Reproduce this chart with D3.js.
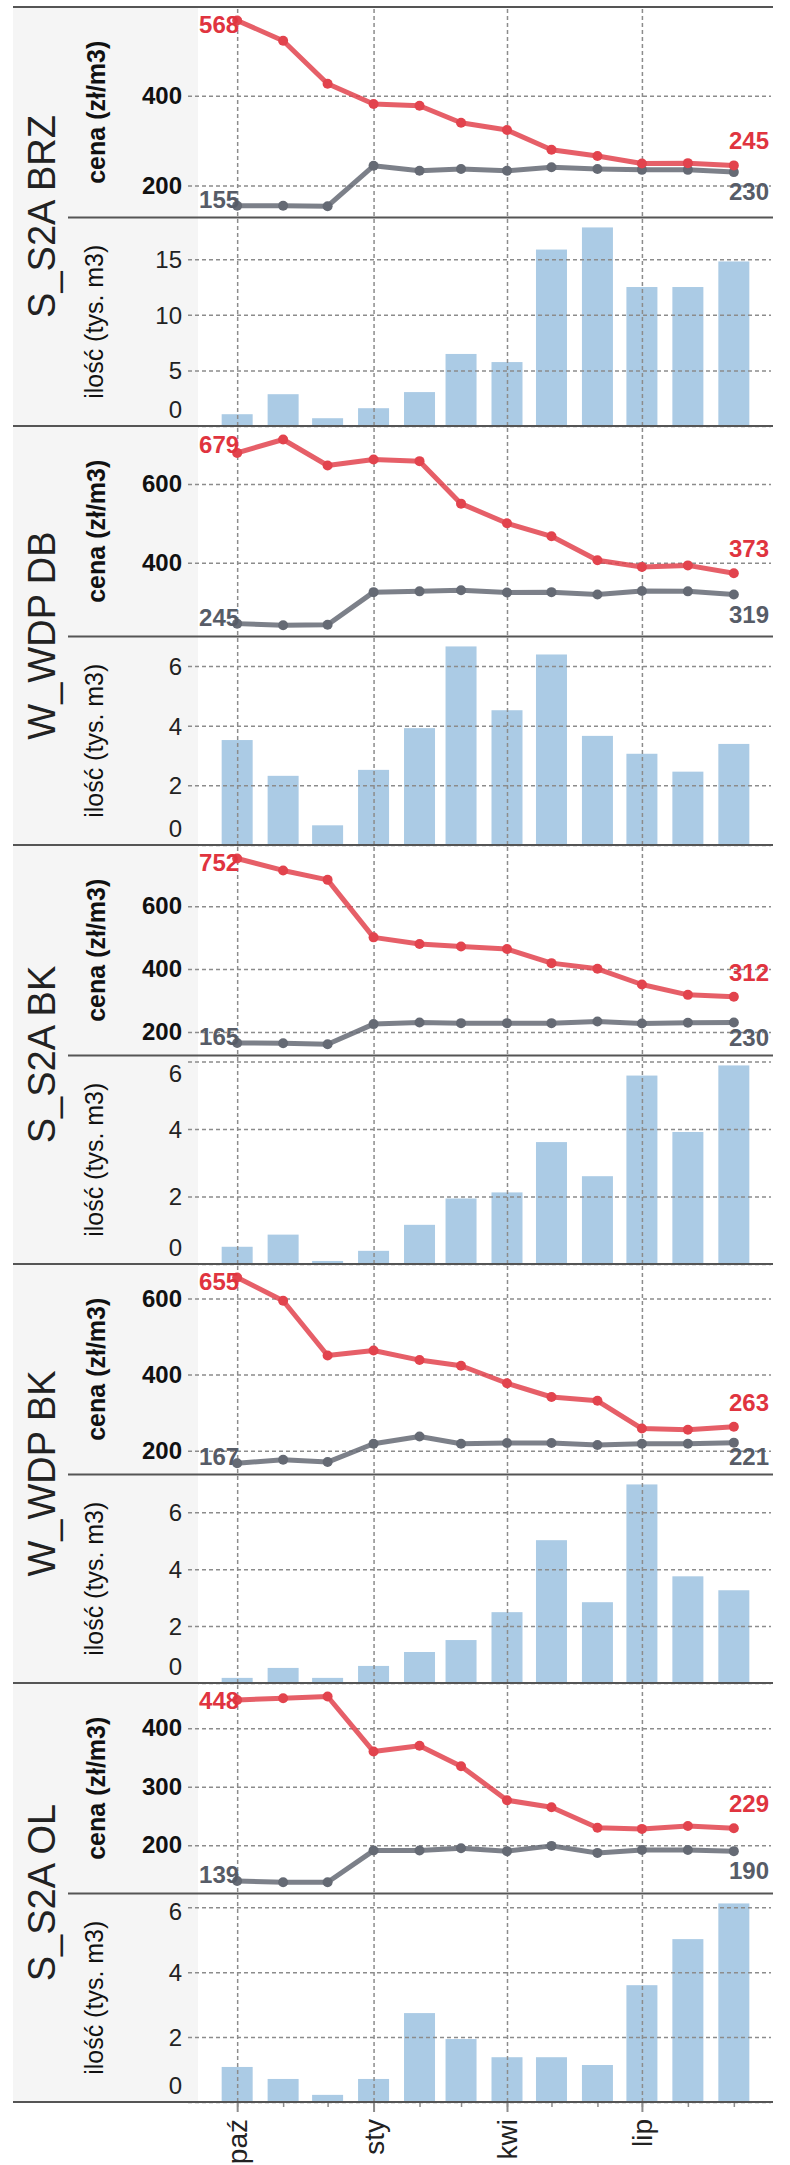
<!DOCTYPE html>
<html>
<head>
<meta charset="utf-8">
<script src="https://cdn.jsdelivr.net/npm/d3@7"></script>
<style>
body { margin: 0; background: #fff; }
svg { display: block; font-family: "Liberation Sans", Arial, Helvetica, sans-serif; }
</style>
</head>
<body>
<div id="chart"></div>
<script>
// facet names, months and quarter tick labels
const facetNames = ["S_S2A BRZ", "W_WDP DB", "S_S2A BK", "W_WDP BK", "S_S2A OL"]
const months = ["2022-10-01", "2022-11-01", "2022-12-01", "2023-01-01", "2023-02-01", "2023-03-01",
                "2023-04-01", "2023-05-01", "2023-06-01", "2023-07-01", "2023-08-01", "2023-09-01"]
const quarterMonths = ["2022-10-01", "2023-01-01", "2023-04-01", "2023-07-01"]
const quarterLabels = ["paź", "sty", "kwi", "lip"]

// cena (zł/m3) - upper (red) series, one row per facet
const cenaRed = [
    [568, 523, 427, 382, 378, 340, 324, 280, 266, 249, 250, 245],
    [679, 713, 647, 662, 658, 550, 500, 467, 406, 389, 393, 373],
    [752, 714, 684, 501, 480, 472, 464, 419, 401, 351, 318, 312],
    [655, 594, 450, 463, 438, 423, 377, 341, 331, 258, 255, 263],
    [448, 451, 454, 360, 370, 335, 277, 265, 230, 228, 233, 229]
]
// cena (zł/m3) - lower (grey) series
const cenaGrey = [
    [155, 155, 154, 244, 233, 237, 233, 241, 237, 235, 235, 230],
    [245, 241, 242, 325, 327, 330, 324, 325, 319, 328, 327, 319],
    [165, 164, 161, 225, 230, 228, 228, 228, 233, 227, 229, 230],
    [167, 176, 170, 218, 237, 218, 220, 220, 215, 218, 218, 221],
    [139, 137, 137, 191, 191, 195, 190, 199, 187, 192, 192, 190]
]
// ilość (tys. m3) - bars
const ilosc = [
    [1.06, 2.86, 0.70, 1.60, 3.05, 6.48, 5.75, 15.87, 17.86, 12.5, 12.5, 14.8],
    [3.52, 2.32, 0.66, 2.52, 3.92, 6.66, 4.52, 6.39, 3.66, 3.06, 2.46, 3.39],
    [0.51, 0.87, 0.09, 0.39, 1.16, 1.94, 2.12, 3.61, 2.60, 5.58, 3.91, 5.88],
    [0.18, 0.53, 0.18, 0.60, 1.09, 1.51, 2.49, 5.02, 2.84, 6.98, 3.75, 3.26],
    [1.08, 0.71, 0.22, 0.71, 2.74, 1.94, 1.38, 1.38, 1.14, 3.60, 5.02, 6.12]
]

const width = 790, height = 2165
const top0 = 7, bgLeft = 13, plotLeft = 198, plotRight = 773, gridRight = 771
const facetH = 419, lineH = 210.5
const red = "#e2434d", redText = "#e0343f", grey = "#656a74", greyText = "#575c67"
const barColor = "#abcbe5", gridColor = "#8c8c8c", frameColor = "#555"

const parse = d3.timeParse("%Y-%m-%d")
const dates = months.map(parse)
const quarters = quarterMonths.map(parse)

const x = d3.scaleTime()
    .domain([d3.timeHour.offset(dates[0], -634), d3.timeHour.offset(dates[dates.length - 1], 634)])
    .range([plotLeft, plotRight])

const svg = d3.select("#chart")
    .append("svg")
    .attr("width", width)
    .attr("height", height)

function styleGrid(sel) {
    sel.selectAll("line")
        .attr("stroke", gridColor)
        .attr("stroke-width", 1.5)
        .attr("stroke-dasharray", "4,3")
}

facetNames.forEach((name, i) => {
    const top = top0 + i * facetH
    const sep = top + lineH
    const bottom = top + facetH
    const g = svg.append("g")

    g.append("rect")
        .attr("x", bgLeft)
        .attr("y", top)
        .attr("width", plotLeft - bgLeft)
        .attr("height", facetH)
        .attr("fill", "#f5f5f5")

    // scales
    const vals = cenaRed[i].concat(cenaGrey[i])
    const y0 = d3.scaleLinear().domain(d3.extent(vals)).range([sep - 11.3, top + 13.5])
    const yLine = d3.scaleLinear().domain([y0.invert(sep), y0.invert(top)]).range([sep, top])
    const yBar = d3.scaleLinear().domain([0, d3.max(ilosc[i]) * 1.05]).range([bottom, sep])

    // bars
    g.selectAll(".bar")
        .data(ilosc[i])
        .join("rect")
        .attr("class", "bar")
        .attr("x", (d, j) => x(dates[j]) - 15.5)
        .attr("width", 31)
        .attr("y", d => yBar(d))
        .attr("height", d => bottom - yBar(d))
        .attr("fill", barColor)

    // vertical grid at quarters
    g.append("g")
        .attr("transform", `translate(0,${bottom})`)
        .call(d3.axisBottom(x).tickValues(quarters).tickSize(-facetH).tickFormat(""))
        .call(a => a.select(".domain").remove())
        .call(styleGrid)

    // y axis of line panel
    const axL = g.append("g")
        .attr("transform", `translate(${plotLeft},0)`)
        .call(d3.axisLeft(yLine).ticks(3).tickSize(-(gridRight - plotLeft)).tickPadding(16))
        .call(a => a.select(".domain").remove())
        .call(styleGrid)
    axL.selectAll("line").attr("x1", -10)
    axL.selectAll("text")
        .attr("font-size", 24)
        .attr("font-weight", "bold")
        .attr("fill", "#111")
        .attr("font-family", null)

    // y axis of bar panel
    const axB = g.append("g")
        .attr("transform", `translate(${plotLeft},0)`)
        .call(d3.axisLeft(yBar).ticks(3).tickSize(-(gridRight - plotLeft)).tickPadding(16))
        .call(a => a.select(".domain").remove())
        .call(styleGrid)
    axB.selectAll("line").attr("x1", -10)
    axB.selectAll("text")
        .attr("font-size", 24)
        .attr("fill", "#222")
        .attr("font-family", null)
        .attr("dy", null)
        .attr("y", 0)
        .attr("transform", null)
    // keep labels flush inside the panel
    axB.selectAll(".tick").each(function(d) {
        const ty = yBar(d)
        let base = ty + 8.5
        if (base > bottom - 9) base = bottom - 9
        if (base - 17 < sep + 9) base = sep + 9 + 17
        d3.select(this).select("text").attr("y", base - ty)
    })

    // lines and points
    const line = d3.line()
        .x((d, j) => x(dates[j]))
        .y(d => yLine(d))

    const series = [
        {values: cenaGrey[i], color: grey},
        {values: cenaRed[i], color: red}
    ]
    series.forEach(s => {
        g.append("path")
            .datum(s.values)
            .attr("d", line)
            .attr("fill", "none")
            .attr("stroke", s.color)
            .attr("stroke-width", 5)
            .attr("stroke-opacity", 0.85)
            .attr("stroke-linejoin", "round")
        g.selectAll(null)
            .data(s.values)
            .join("circle")
            .attr("cx", (d, j) => x(dates[j]))
            .attr("cy", d => yLine(d))
            .attr("r", 5)
            .attr("fill", s.color)
    })

    // first and last value labels
    const n = dates.length - 1
    const labels = [
        {v: cenaRed[i][0], x: x(dates[0]) + 2, y: Math.max(yLine(cenaRed[i][0]), top + 26), c: redText},
        {v: cenaGrey[i][0], x: x(dates[0]) + 2, y: Math.min(yLine(cenaGrey[i][0]) + 2, sep - 9.5), c: greyText},
        {v: cenaRed[i][n], x: plotRight - 4, y: yLine(cenaRed[i][n]) - 16, c: redText},
        {v: cenaGrey[i][n], x: plotRight - 4, y: Math.min(yLine(cenaGrey[i][n]) + 28, sep - 9.5), c: greyText}
    ]
    g.selectAll(".vlab")
        .data(labels)
        .join("text")
        .attr("class", "vlab")
        .attr("x", d => d.x)
        .attr("y", d => d.y)
        .attr("text-anchor", "end")
        .attr("font-size", 24)
        .attr("font-weight", "bold")
        .attr("fill", d => d.c)
        .text(d => d.v)

    // titles
    g.append("text")
        .attr("transform", `translate(55,${(top + bottom) / 2}) rotate(-90)`)
        .attr("text-anchor", "middle")
        .attr("font-size", 38)
        .attr("fill", "#222")
        .text(name)
    g.append("text")
        .attr("transform", `translate(105,${(top + sep) / 2}) rotate(-90)`)
        .attr("text-anchor", "middle")
        .attr("font-size", 25)
        .attr("font-weight", "bold")
        .attr("fill", "#111")
        .text("cena (zł/m3)")
    g.append("text")
        .attr("transform", `translate(103,${(sep + bottom) / 2}) rotate(-90)`)
        .attr("text-anchor", "middle")
        .attr("font-size", 25)
        .attr("fill", "#111")
        .text("ilość (tys. m3)")

    // frame lines
    g.append("line")
        .attr("x1", bgLeft).attr("x2", plotRight)
        .attr("y1", top).attr("y2", top)
        .attr("stroke", frameColor).attr("stroke-width", 2)
    g.append("line")
        .attr("x1", 68).attr("x2", plotRight)
        .attr("y1", sep).attr("y2", sep)
        .attr("stroke", frameColor).attr("stroke-width", 2)
})

const chartBottom = top0 + facetNames.length * facetH

// x axis: minor ticks each month, labelled quarters
svg.append("g")
    .attr("transform", `translate(0,${chartBottom})`)
    .call(d3.axisBottom(x).tickValues(dates).tickSize(5).tickFormat(""))
    .call(a => a.select(".domain").remove())
    .call(a => a.selectAll("line").attr("stroke", gridColor).attr("stroke-width", 1.5))

svg.append("g")
    .attr("transform", `translate(0,${chartBottom})`)
    .call(d3.axisBottom(x).tickValues(quarters).tickSize(10).tickFormat((d, i) => quarterLabels[i]))
    .call(a => a.select(".domain").remove())
    .call(a => a.selectAll("line").attr("stroke", gridColor).attr("stroke-width", 2))
    .call(a => a.selectAll("text")
        .attr("font-size", 28)
        .attr("font-family", null)
        .attr("fill", "#222")
        .attr("text-anchor", "end")
        .attr("y", 0)
        .attr("dy", "0.35em")
        .attr("transform", "translate(0,17) rotate(-90)"))

svg.append("line")
    .attr("x1", bgLeft).attr("x2", plotRight)
    .attr("y1", chartBottom).attr("y2", chartBottom)
    .attr("stroke", frameColor).attr("stroke-width", 2)
</script>
</body>
</html>
